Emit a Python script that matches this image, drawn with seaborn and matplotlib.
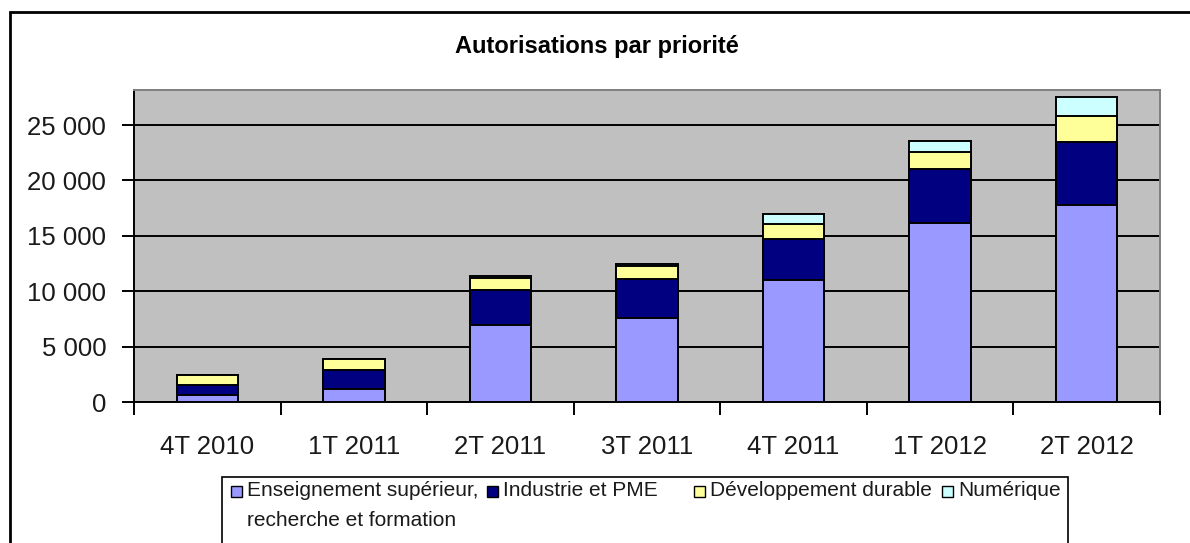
import matplotlib
matplotlib.use("Agg")
import matplotlib.pyplot as plt
from matplotlib.patches import Rectangle
from matplotlib.ticker import FuncFormatter, MultipleLocator
import seaborn as sns
import pandas as pd
import numpy as np

# ---- data ----
periods = ["4T 2010", "1T 2011", "2T 2011", "3T 2011", "4T 2011", "1T 2012", "2T 2012"]
enseignement = [630, 1150, 6970, 7580, 11060, 16170, 17830]
industrie = [940, 1710, 3170, 3530, 3640, 4850, 5600]
developpement = [900, 1060, 1060, 1150, 1330, 1510, 2410]
numerique = [0, 0, 220, 200, 930, 1050, 1660]
series_names = ["Enseignement supérieur,\nrecherche et formation", "Industrie et PME",
                "Développement durable", "Numérique"]
colors = ["#9999FF", "#000080", "#FFFF99", "#CCFFFF"]
title = "Autorisations par priorité"

sns.set_style("white")
plt.rcParams["font.family"] = ["Liberation Sans", "DejaVu Sans"]
plt.rcParams["text.color"] = "black"

W, H = 1190, 543
fig = plt.figure(figsize=(W / 100, H / 100), dpi=100)
fig.patch.set_facecolor("white")

L, R, T, B = 134, 1160, 90, 402
ax = fig.add_axes([L / W, 1 - B / H, (R - L) / W, (B - T) / H])
ax.set_facecolor("#C0C0C0")

stack = np.array([enseignement, industrie, developpement, numerique], dtype=float)
cum = np.cumsum(stack, axis=0)
df = pd.DataFrame({"period": periods})
for i in range(3, -1, -1):
    df["v"] = cum[i]
    sns.barplot(data=df, x="period", y="v", color=colors[i], saturation=1,
                width=0.42, edgecolor="black", linewidth=1.4, ax=ax, zorder=3)

ax.set_xlim(-0.5, len(periods) - 0.5)
ax.set_ylim(0, 28170)
ax.yaxis.set_major_locator(MultipleLocator(5000))
ax.yaxis.set_major_formatter(FuncFormatter(lambda v, p: f"{int(v):,}".replace(",", " ")))
ax.grid(axis="y", color="black", linewidth=1.4, zorder=0)
ax.grid(axis="x", visible=False)
ax.set_axisbelow(True)
ax.set_xlabel("")
ax.set_ylabel("")

# x ticks: labels at centers, tick marks at boundaries
ax.set_xticks(range(len(periods)))
ax.set_xticklabels(periods)
ax.set_xticks(np.arange(-0.5, len(periods), 1.0), minor=True)
ax.tick_params(axis="x", which="major", length=0, pad=24, labelsize=18.5, labelcolor="#1a1a1a")
ax.tick_params(axis="x", which="minor", length=9, width=1.4, color="black", direction="out", bottom=True)
ax.tick_params(axis="y", which="major", length=9, width=1.4, color="black", direction="out",
               left=True, pad=11, labelsize=18.5, labelcolor="#1a1a1a")

for s in ["left", "bottom"]:
    ax.spines[s].set_color("black")
    ax.spines[s].set_linewidth(1.4)
for s in ["top", "right"]:
    ax.spines[s].set_color("#7f7f7f")
    ax.spines[s].set_linewidth(1.4)

# title
fig.text(597 / W, 1 - 46 / H, title, ha="center", va="center", fontsize=17,
         fontweight="bold", color="black")

# outer frame
fig.add_artist(Rectangle((10 / W, -0.1), 1.2, 1.1 - 12 / H, transform=fig.transFigure,
                         fill=False, edgecolor="black", linewidth=2))

# legend (manual)
fig.add_artist(Rectangle((222 / W, -0.1), (1068 - 222) / W, 0.1 + 1 - 477 / H,
                         transform=fig.transFigure, fill=False, edgecolor="black", linewidth=1.2))
text_x = [247, 503, 710, 958]
yline = 491
for i, name in enumerate(series_names):
    hx = text_x[i] - 16
    fig.add_artist(Rectangle((hx / W, 1 - (yline + 6) / H), 11 / W, 11 / H,
                             transform=fig.transFigure, facecolor=colors[i],
                             edgecolor="black", linewidth=1.0))
    lines = name.split("\n")
    for j, ln in enumerate(lines):
        fig.text(text_x[i] / W, 1 - (yline + j * 29) / H, ln, ha="left", va="center",
                 fontsize=15, color="#1a1a1a")

fig.savefig("out.png", dpi=100)
